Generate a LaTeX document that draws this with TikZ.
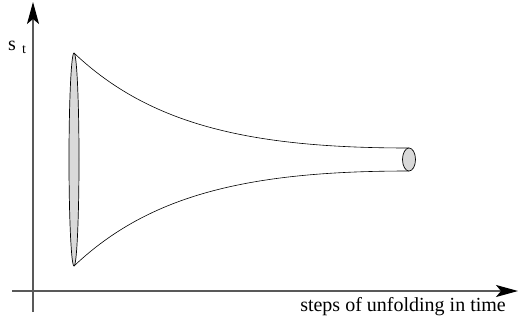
\documentclass[tikz,border=0pt]{standalone}
\usepackage{fontspec}
\setmainfont{Liberation Serif}
\usetikzlibrary{arrows.meta}
\begin{document}
\begin{tikzpicture}[x=1pt,y=-1pt,
  axis/.style={draw=black!65,line width=1.3pt,-{Stealth[length=22pt,width=12pt,inset=5pt,color=black]}},
  curve/.style={draw=black,line width=0.6pt},
  disc/.style={draw=black,line width=0.7pt,fill=black!15},
  lbl/.style={font=\fontsize{20}{22}\selectfont,inner sep=0pt}]
\useasboundingbox (0,0) rectangle (518,321);
\coordinate (ob) at (33,312);
\coordinate (yt) at (33,2);
\coordinate (xl) at (12,291);
\coordinate (xr) at (518,291);
\draw[axis] (ob) -- (yt);
\draw[axis] (xl) -- (xr);
\node[lbl,anchor=base west] (st) at (8,50) {s};
\node[lbl,anchor=base west,font=\fontsize{14}{16}\selectfont] (stt) at (22,53) {t};
\node[lbl,anchor=base east] (xlab) at (506,311) {steps of unfolding in time};
\coordinate (ut) at (74,53);
\coordinate (ub) at (74,266);
\coordinate (vt) at (409,148);
\coordinate (vb) at (409,171);
\draw[curve] (ut) .. controls (150,125) and (250,148) .. (vt);
\draw[curve] (ub) .. controls (150,194) and (250,171) .. (vb);
\draw[disc] (74,159.5) ellipse [x radius=5, y radius=106.5];
\draw[disc] (409,159.5) ellipse [x radius=6.5, y radius=11.5];
\end{tikzpicture}
\end{document}
